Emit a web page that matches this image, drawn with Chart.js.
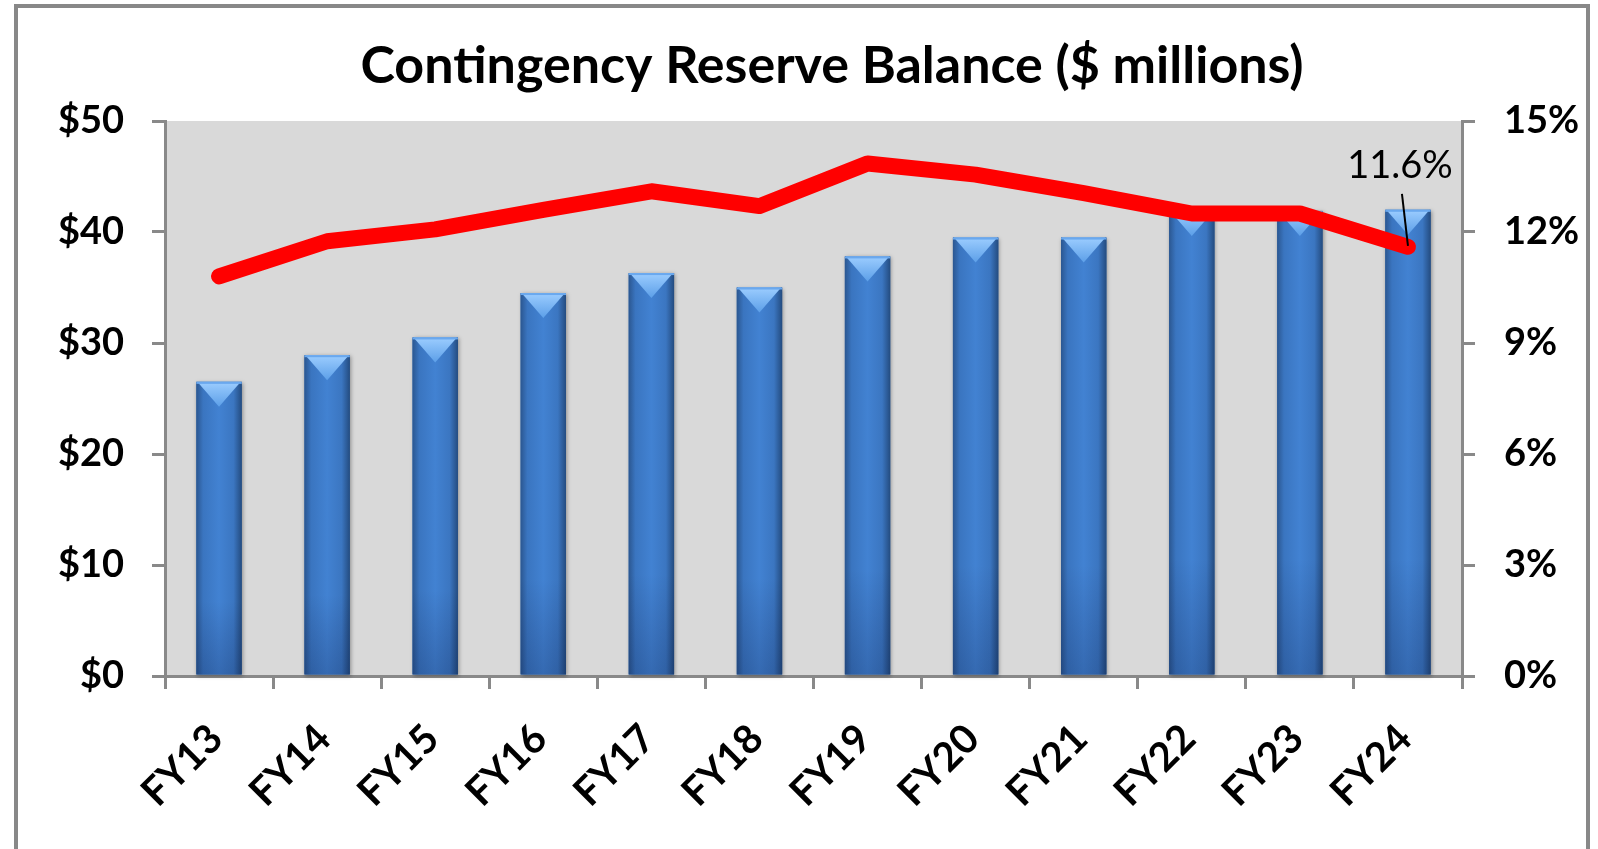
<!DOCTYPE html>
<html><head><meta charset="utf-8">
<script src="https://cdn.jsdelivr.net/npm/chart.js@4.4.1/dist/chart.umd.min.js"></script>
<style>html,body{margin:0;padding:0;background:#fff;overflow:hidden}#wrap{width:1598px;height:849px;position:relative}</style>
</head><body><div id="wrap"><canvas id="c"></canvas></div>
<script>
const categories = ['FY13','FY14','FY15','FY16','FY17','FY18','FY19','FY20','FY21','FY22','FY23','FY24'];
const balances = [26.5, 28.9, 30.5, 34.5, 36.3, 35.0, 37.8, 39.5, 39.5, 41.9, 41.9, 42.0];
const reservePct = [10.8, 11.75, 12.07, 12.6, 13.1, 12.7, 13.85, 13.55, 13.05, 12.5, 12.5, 11.6];
const balanceTicks = [0, 10, 20, 30, 40, 50];
const pctTicks = [0, 3, 6, 9, 12, 15];
const titleText = 'Contingency Reserve Balance ($ millions)';
const calloutIndex = 11;

const FONT = 'Lato, "Open Sans", sans-serif';
const AXIS_GRAY = '#898989';

const frame = {
  id: 'frame',
  beforeDraw(chart) {
    const {ctx, chartArea: a} = chart;
    ctx.save();
    ctx.fillStyle = '#ffffff';
    ctx.fillRect(0, 0, chart.width, chart.height);
    ctx.strokeStyle = '#888888';
    ctx.lineWidth = 4;
    ctx.strokeRect(16, 6, 1572, 900);
    ctx.fillStyle = '#d9d9d9';
    ctx.fillRect(a.left, a.top, a.right - a.left, a.bottom - a.top);
    ctx.restore();
  },
  afterDraw(chart) {
    const ctx = chart.ctx;
    ctx.save();
    ctx.fillStyle = '#000';
    ctx.font = 'bold 52px ' + FONT;
    ctx.textAlign = 'center';
    ctx.textBaseline = 'alphabetic';
    ctx.fillText(titleText, 832, 83);
    const p = chart.getDatasetMeta(1).data[calloutIndex];
    if (p) {
      ctx.font = '38px ' + FONT;
      ctx.textBaseline = 'middle';
      ctx.fillText(reservePct[calloutIndex].toFixed(1) + '%', p.x - 8, p.y - 81);
      ctx.strokeStyle = '#000';
      ctx.lineWidth = 2;
      ctx.beginPath();
      ctx.moveTo(p.x - 6, p.y - 53);
      ctx.lineTo(p.x, p.y - 1);
      ctx.stroke();
    }
    ctx.restore();
  }
};

const barShade = {
  id: 'barShade',
  afterDatasetDraw(chart, args) {
    if (args.index !== 0) return;
    const ctx = chart.ctx;
    ctx.save();
    args.meta.data.forEach(bar => {
      const {x, y, base, width} = bar.getProps(['x', 'y', 'base', 'width'], true);
      const l = x - width / 2, r = x + width / 2, h = base - y;
      ctx.save();
      ctx.shadowColor = 'rgba(0,0,0,0.35)';
      ctx.shadowBlur = 4;
      ctx.shadowOffsetX = 1;
      ctx.shadowOffsetY = 1;
      const g = ctx.createLinearGradient(l, 0, r, 0);
      g.addColorStop(0, '#2b5791');
      g.addColorStop(0.15, '#3a75c0');
      g.addColorStop(0.5, '#4282d2');
      g.addColorStop(0.82, '#3b76c1');
      g.addColorStop(1, '#244c80');
      ctx.fillStyle = g;
      ctx.fillRect(l, y, width, h);
      ctx.restore();
      const gv = ctx.createLinearGradient(0, y, 0, base);
      gv.addColorStop(0, 'rgba(0,0,40,0)');
      gv.addColorStop(0.75, 'rgba(0,0,40,0)');
      gv.addColorStop(1, 'rgba(0,10,50,0.2)');
      ctx.fillStyle = gv;
      ctx.fillRect(l, y, width, h);
      const th = Math.min(width * 0.55, h);
      const gt = ctx.createLinearGradient(0, y, 0, y + th);
      gt.addColorStop(0, '#9ccdff');
      gt.addColorStop(1, '#5c9fe8');
      ctx.fillStyle = gt;
      ctx.beginPath();
      ctx.moveTo(l + 1, y);
      ctx.lineTo(r - 1, y);
      ctx.lineTo(x, y + th);
      ctx.closePath();
      ctx.fill();
      ctx.fillStyle = '#6aa8ee';
      ctx.fillRect(l, y, width, 2);
    });
    ctx.restore();
  }
};

new Chart(document.getElementById('c'), {
  type: 'bar',
  data: {
    labels: categories,
    datasets: [
      {
        type: 'bar',
        label: 'Balance',
        data: balances,
        yAxisID: 'y',
        backgroundColor: '#3f7fcf',
        barPercentage: 0.42,
        categoryPercentage: 1.0,
        order: 2
      },
      {
        type: 'line',
        label: 'Percent',
        data: reservePct,
        yAxisID: 'y1',
        borderColor: '#ff0000',
        borderWidth: 16,
        borderCapStyle: 'round',
        borderJoinStyle: 'round',
        pointRadius: 0,
        pointHoverRadius: 0,
        tension: 0,
        fill: false,
        order: 1
      }
    ]
  },
  options: {
    responsive: true,
    maintainAspectRatio: false,
    animation: false,
    events: [],
    layout: {padding: {top: 121, left: 0, right: 0, bottom: 0}},
    plugins: {legend: {display: false}, title: {display: false}, tooltip: {enabled: false}},
    scales: {
      x: {
        afterFit(s) { s.height = 173; },
        border: {display: true, color: AXIS_GRAY, width: 3},
        grid: {display: true, drawOnChartArea: false, drawTicks: true, tickLength: 13, color: AXIS_GRAY, lineWidth: 3, offset: true},
        ticks: {
          autoSkip: false, minRotation: 45, maxRotation: 45,
          color: '#000', font: {family: FONT, size: 40, weight: 'bold'},
          padding: 26, labelOffset: -3
        }
      },
      y: {
        position: 'left',
        min: 0, max: 50,
        afterFit(s) { s.width = 165; },
        afterBuildTicks(s) { s.ticks = balanceTicks.map(v => ({value: v})); },
        border: {display: true, color: AXIS_GRAY, width: 3},
        grid: {display: true, drawOnChartArea: false, drawTicks: true, tickLength: 13, color: AXIS_GRAY, lineWidth: 3},
        ticks: {
          color: '#000', font: {family: FONT, size: 38, weight: 'bold'}, padding: 28,
          callback: v => '$' + v
        }
      },
      y1: {
        position: 'right',
        min: 0, max: 15,
        afterFit(s) { s.width = 136; },
        afterBuildTicks(s) { s.ticks = pctTicks.map(v => ({value: v})); },
        border: {display: true, color: AXIS_GRAY, width: 3},
        grid: {display: true, drawOnChartArea: false, drawTicks: true, tickLength: 13, color: AXIS_GRAY, lineWidth: 3},
        ticks: {
          color: '#000', font: {family: FONT, size: 38, weight: 'bold'}, padding: 29,
          callback: v => v + '%'
        }
      }
    }
  },
  plugins: [frame, barShade]
});
</script>
</body></html>
